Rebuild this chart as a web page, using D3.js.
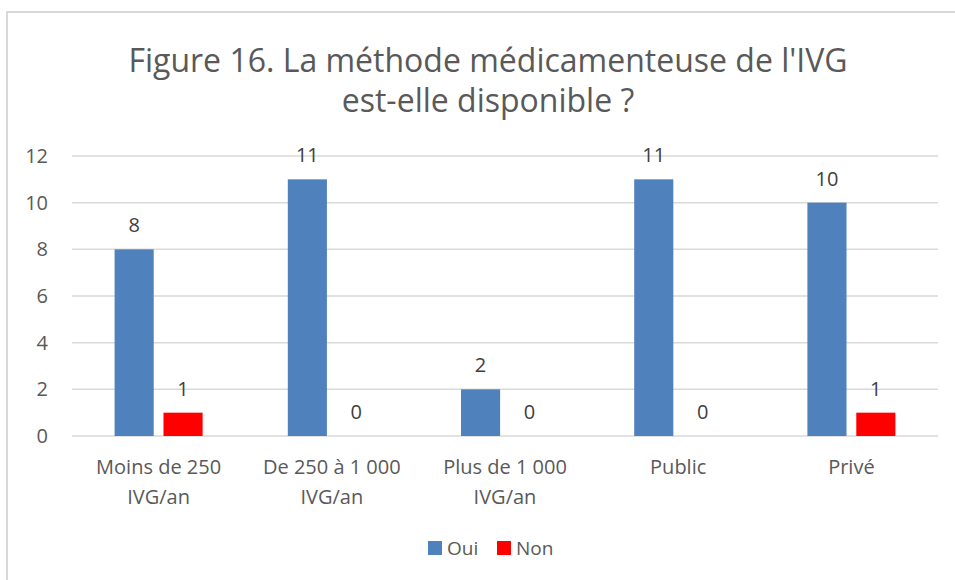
<!DOCTYPE html>
<html>
<head>
<meta charset="utf-8">
<script src="https://cdn.jsdelivr.net/npm/d3@7"></script>
<style>
  html, body { margin: 0; padding: 0; background: #fff; }
  text { font-family: "Open Sans", "Liberation Sans", sans-serif; }
</style>
</head>
<body>
<div id="chart"></div>
<script>
const categories = [
  ["Moins de 250", "IVG/an"],
  ["De 250 à 1 000", "IVG/an"],
  ["Plus de 1 000", "IVG/an"],
  ["Public"],
  ["Privé"]
];
const seriesNames = ["Oui", "Non"];
const oui = [8, 11, 2, 11, 10];
const non = [1, 0, 0, 0, 1];
const yTicks = [0, 2, 4, 6, 8, 10, 12];
const titleLines = ["Figure 16. La méthode médicamenteuse de l'IVG", "est-elle disponible ?"];

const W = 955, H = 580;
const MARGIN = { LEFT: 72, RIGHT: 17, TOP: 156, BOTTOM: 144 };
const COLORS = { Oui: "#4f81bd", Non: "#ff0000" };

const svg = d3.select("#chart").append("svg")
  .attr("width", W)
  .attr("height", H);

// chart frame
svg.append("rect")
  .attr("x", 7).attr("y", 12)
  .attr("width", W + 20).attr("height", H + 20)
  .attr("fill", "none")
  .attr("stroke", "#d9d9d9")
  .attr("stroke-width", 2);

// title
svg.append("g").selectAll("text")
  .data(titleLines)
  .enter().append("text")
  .attr("x", 488)
  .attr("y", (d, i) => 72 + i * 40)
  .attr("text-anchor", "middle")
  .attr("fill", "#595959")
  .style("font-size", "32px")
  .text(d => d);

const x0 = d3.scaleBand()
  .domain(d3.range(categories.length))
  .range([MARGIN.LEFT, W - MARGIN.RIGHT]);

const GROUP = 88;
const x1 = d3.scaleBand()
  .domain(seriesNames)
  .range([0, GROUP])
  .paddingInner(0.2);

const y = d3.scaleLinear()
  .domain([0, 12])
  .range([H - MARGIN.BOTTOM, MARGIN.TOP]);

// gridlines
svg.append("g").selectAll("line")
  .data(yTicks)
  .enter().append("line")
  .attr("x1", MARGIN.LEFT).attr("x2", W - MARGIN.RIGHT)
  .attr("y1", d => y(d)).attr("y2", d => y(d))
  .attr("stroke", "#d9d9d9")
  .attr("stroke-width", 1.5);

// y axis labels
const yAxis = svg.append("g")
  .attr("transform", `translate(${MARGIN.LEFT}, 0)`)
  .call(d3.axisLeft(y).tickValues(yTicks).tickSize(0).tickPadding(24));
yAxis.select(".domain").remove();
yAxis.selectAll("text")
  .attr("fill", "#595959")
  .style("font-size", "20px")
  .style("font-family", "'Open Sans', sans-serif");

const rows = categories.map((c, i) => ({ i, values: [
  { key: "Oui", value: oui[i] },
  { key: "Non", value: non[i] }
]}));

const groups = svg.append("g").selectAll("g")
  .data(rows)
  .enter().append("g")
  .attr("transform", d => `translate(${x0(d.i) + (x0.bandwidth() - GROUP) / 2}, 0)`);

groups.selectAll("rect")
  .data(d => d.values)
  .enter().append("rect")
  .attr("x", d => x1(d.key))
  .attr("y", d => y(d.value))
  .attr("width", x1.bandwidth())
  .attr("height", d => y(0) - y(d.value))
  .attr("fill", d => COLORS[d.key]);

groups.selectAll("text")
  .data(d => d.values)
  .enter().append("text")
  .attr("x", d => x1(d.key) + x1.bandwidth() / 2)
  .attr("y", d => y(d.value) - 17)
  .attr("text-anchor", "middle")
  .attr("fill", "#404040")
  .style("font-size", "20px")
  .text(d => d.value);

// category labels
const xl = svg.append("g").selectAll("text")
  .data(categories)
  .enter().append("text")
  .attr("x", (d, i) => x0(i) + x0.bandwidth() / 2)
  .attr("y", 474)
  .attr("text-anchor", "middle")
  .attr("fill", "#595959")
  .style("font-size", "20px");
xl.selectAll("tspan")
  .data(d => d)
  .enter().append("tspan")
  .attr("x", function () { return this.parentNode.getAttribute("x"); })
  .attr("dy", (d, i) => i === 0 ? 0 : 30)
  .text(d => d);

// legend
const legendX = { Oui: 428, Non: 497 };
const legend = svg.append("g").selectAll("g")
  .data(seriesNames)
  .enter().append("g")
  .attr("transform", d => `translate(${legendX[d]}, 541)`);
legend.append("rect")
  .attr("width", 14).attr("height", 14)
  .attr("fill", d => COLORS[d]);
legend.append("text")
  .attr("x", 19).attr("y", 14)
  .attr("fill", "#595959")
  .style("font-size", "19px")
  .text(d => d);
</script>
</body>
</html>
